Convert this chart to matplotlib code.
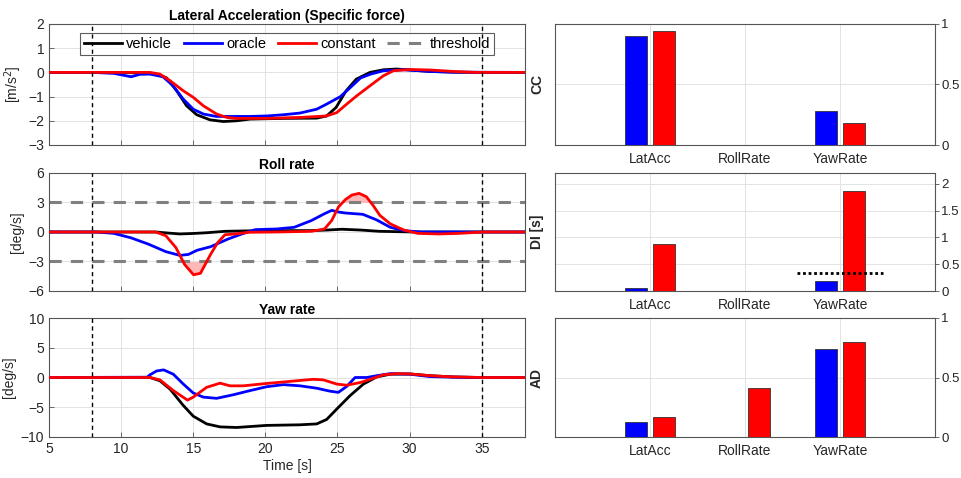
import matplotlib
matplotlib.use("Agg")
import matplotlib.pyplot as plt
import numpy as np

plt.rcParams["font.family"] = ["Liberation Sans", "DejaVu Sans"]
plt.rcParams["font.size"] = 10

BLUE = (0, 0, 1)
RED = (1, 0, 0)
GRAY = (0.5, 0.5, 0.5)
AXCOL = "#555555"
TXTCOL = "#262626"

# ---- lateral acceleration [m/s^2] ----
lat_veh_t = [5, 8, 10, 11, 12.0, 12.6, 13.16, 13.85, 14.54, 15.24, 16.16, 17.09, 18.0, 18.94,
             21.25, 23.56, 24.25, 24.9, 25.6, 26.3, 27.25, 28.2, 29.1, 30.0, 31.4, 33, 35, 38]
lat_veh_v = [0, 0, 0, -0.02, -0.05, -0.1, -0.23, -0.76, -1.38, -1.75, -1.96, -2.03, -2.0, -1.93,
             -1.9, -1.89, -1.8, -1.45, -0.76, -0.28, 0.0, 0.11, 0.14, 0.1, 0.04, 0.01, 0, 0]
lat_ora_t = [5, 8, 9.5, 10.7, 11.3, 12.0, 12.9, 13.6, 14.3, 15.0, 15.7, 16.6, 18.9, 20.1, 21.25,
             22.4, 23.56, 24.25, 25.2, 25.9, 26.6, 27.3, 28.2, 29.6, 31.4, 33, 38]
lat_ora_v = [0, 0, -0.04, -0.18, -0.08, -0.07, -0.18, -0.55, -1.1, -1.52, -1.72, -1.82, -1.82, -1.8,
             -1.75, -1.68, -1.52, -1.31, -1.0, -0.62, -0.23, -0.07, 0.07, 0.11, 0.04, 0.01, 0]
lat_con_t = [5, 12.0, 12.69, 13.39, 14.31, 15.0, 15.7, 16.62, 17.32, 18.0, 20.1, 22.4, 24.25,
             24.95, 25.64, 26.33, 27.26, 28.18, 28.88, 30.03, 31.42, 33, 34.5, 38]
lat_con_v = [0, 0, -0.07, -0.34, -0.76, -1.03, -1.38, -1.72, -1.86, -1.9, -1.9, -1.86, -1.8,
             -1.66, -1.31, -0.97, -0.55, -0.14, 0.07, 0.12, 0.1, 0.04, 0, 0]

# ---- roll rate [deg/s] ----
roll_veh_t = [5, 12.4, 13.2, 14.07, 15.0, 15.98, 17.2, 19.6, 23.2, 24.3, 25.3, 26.6, 27.9, 30.3, 38]
roll_veh_v = [0, 0, -0.1, -0.2, -0.15, -0.07, 0.07, 0.14, 0.14, 0.2, 0.28, 0.2, 0.07, 0, 0]
roll_ora_t = [5, 8.3, 9.5, 10.7, 11.9, 13.1, 14.07, 14.67, 15.26, 16.2, 17.4, 18.37, 19.3, 20.8,
              22.0, 23.2, 24.1, 24.6, 25.07, 25.55, 26.75, 27.7, 28.66, 29.6, 30.8, 38]
roll_ora_v = [0, 0, -0.14, -0.6, -1.24, -2.0, -2.38, -2.28, -1.86, -1.5, -0.72, -0.2, 0.24, 0.31,
              0.48, 1.17, 1.86, 2.2, 2.03, 1.93, 1.8, 1.24, 0.48, 0.14, 0, 0]
roll_con_t = [5, 12.4, 13.1, 13.8, 14.4, 15.02, 15.5, 16.2, 16.7, 17.2, 17.9, 18.85, 20.8, 23.2,
              24.1, 24.6, 25.07, 25.55, 26.0, 26.5, 27.0, 27.46, 27.94, 28.66, 29.6, 30.57, 32.0,
              33.4, 35.1, 38]
roll_con_v = [0, 0, -0.38, -1.59, -3.3, -4.35, -4.2, -2.28, -1.07, -0.28, -0.2, -0.03, 0, 0.07,
              0.31, 1.17, 2.55, 3.3, 3.76, 3.93, 3.59, 2.72, 1.69, 0.83, 0.2, -0.14, -0.2,
              -0.14, 0, 0]
roll_threshold = 3.0

# ---- yaw rate [deg/s] ----
yaw_veh_t = [5, 12.0, 12.69, 13.39, 14.31, 15.0, 15.93, 16.86, 18.01, 20.09, 22.4, 23.56, 24.25,
             24.95, 25.87, 26.8, 27.72, 28.65, 30.03, 31.42, 33, 35, 38]
yaw_veh_v = [0, 0, -0.55, -1.95, -4.7, -6.5, -7.8, -8.3, -8.4, -8.05, -7.95, -7.8, -7.05,
             -5.3, -3.05, -1.1, 0.1, 0.55, 0.6, 0.3, 0.1, 0, 0]
yaw_ora_t = [5, 11.8, 12.0, 12.46, 12.95, 13.62, 14.31, 15.0, 15.7, 16.62, 17.78, 18.94, 20.09,
             21.25, 22.4, 23.56, 24.48, 25.06, 25.64, 26.22, 27.03, 27.72, 28.65, 30.03, 31.42,
             33, 35, 38]
yaw_ora_v = [0, 0.05, 0.45, 1.1, 1.28, 0.55, -1.1, -2.6, -3.3, -3.5, -2.9, -2.2, -1.55,
             -1.2, -1.4, -1.8, -2.3, -2.5, -1.5, 0, 0, 0.3, 0.65, 0.55, 0.15, 0.05, 0, 0]
yaw_con_t = [5, 12.0, 12.69, 13.62, 14.6, 15.0, 15.93, 16.86, 17.55, 18.47, 20.09, 21.71, 23.33,
             24.02, 24.95, 25.64, 26.57, 27.26, 28.18, 29.11, 30.03, 31.42, 33, 35, 38]
yaw_con_v = [0, 0, -0.4, -2.2, -3.8, -3.3, -1.65, -0.95, -1.4, -1.4, -1.0, -0.65, -0.3,
             -0.4, -1.1, -1.3, -0.85, -0.3, 0.45, 0.65, 0.6, 0.3, 0.1, 0, 0]

window_start = 8
window_end = 35

# ---- metrics (oracle / constant) ----
metrics = ["LatAcc", "RollRate", "YawRate"]
cc_oracle = [0.90, np.nan, 0.28]
cc_constant = [0.945, np.nan, 0.18]
di_oracle = [0.05, np.nan, 0.18]
di_constant = [0.88, np.nan, 1.87]
di_threshold = 0.33
ad_oracle = [0.125, np.nan, 0.74]
ad_constant = [0.165, 0.41, 0.80]

fig = plt.figure(figsize=(9.61, 4.78), dpi=100)

W, H = 961, 478


def pos(x0, y0, x1, y1):
    return [x0 / W, 1 - y1 / H, (x1 - x0) / W, (y1 - y0) / H]


rows = [(24, 145), (173, 291), (318, 437)]
left_axes = [fig.add_axes(pos(49, r[0], 525, r[1])) for r in rows]
right_axes = [fig.add_axes(pos(555, r[0], 935, r[1])) for r in rows]


def style(ax):
    for s in ax.spines.values():
        s.set_color(AXCOL)
        s.set_linewidth(0.8)
    ax.tick_params(direction="in", length=3.5, width=0.6, colors=AXCOL,
                   labelcolor=TXTCOL, labelsize=10)
    ax.grid(True, color="#e3e3e3", linewidth=0.7)
    ax.set_axisbelow(True)


panels = [
    ("Lateral Acceleration (Specific force)", r"[m/s$^2$]", (-3, 2), [-3, -2, -1, 0, 1, 2],
     (lat_veh_t, lat_veh_v), (lat_ora_t, lat_ora_v), (lat_con_t, lat_con_v)),
    ("Roll rate", "[deg/s]", (-6, 6), [-6, -3, 0, 3, 6],
     (roll_veh_t, roll_veh_v), (roll_ora_t, roll_ora_v), (roll_con_t, roll_con_v)),
    ("Yaw rate", "[deg/s]", (-10, 10), [-10, -5, 0, 5, 10],
     (yaw_veh_t, yaw_veh_v), (yaw_ora_t, yaw_ora_v), (yaw_con_t, yaw_con_v)),
]

lw = 2.0
for i, (ax, p) in enumerate(zip(left_axes, panels)):
    title, ylab, ylim, yticks, veh, ora, con = p
    style(ax)
    if i == 1:
        ct = np.array(con[0])
        cv = np.array(con[1])
        ax.fill_between(ct, cv, roll_threshold, where=cv > roll_threshold, interpolate=True,
                        color=(1, 0.72, 0.72), linewidth=0, zorder=1)
        ax.fill_between(ct, cv, -roll_threshold, where=cv < -roll_threshold, interpolate=True,
                        color=(1, 0.72, 0.72), linewidth=0, zorder=1)
        ax.axhline(roll_threshold, color=GRAY, linestyle=(0, (4, 3)), linewidth=2.2, zorder=2)
        ax.axhline(-roll_threshold, color=GRAY, linestyle=(0, (4, 3)), linewidth=2.2, zorder=2)
    h1, = ax.plot(veh[0], veh[1], color="black", linewidth=lw, label="vehicle", zorder=3)
    h2, = ax.plot(ora[0], ora[1], color=BLUE, linewidth=lw, label="oracle", zorder=4)
    h3, = ax.plot(con[0], con[1], color=RED, linewidth=lw, label="constant", zorder=5)
    for xv in (window_start, window_end):
        ax.axvline(xv, color="black", linestyle=(0, (3, 2.5)), linewidth=1.0, zorder=6)
    ax.set_xlim(5, 38)
    ax.set_ylim(*ylim)
    ax.set_yticks(yticks)
    ax.set_xticks([5, 10, 15, 20, 25, 30, 35])
    ax.set_title(title, fontsize=10, fontweight="bold", color="black", pad=3)
    ax.set_ylabel(ylab, color=TXTCOL, labelpad=3)
    if i < 2:
        ax.tick_params(labelbottom=False)
    else:
        ax.set_xlabel("Time [s]", color=TXTCOL, labelpad=2)
    if i == 0:
        thr, = ax.plot([], [], color=GRAY, linestyle=(0, (4, 3)), linewidth=2.2, label="threshold")
        leg = ax.legend(handles=[h1, h2, h3, thr], loc="upper center", ncol=4, fontsize=10.5,
                        frameon=True, fancybox=False, handlelength=2.6, handletextpad=0.3,
                        columnspacing=0.8, borderpad=0.3, bbox_to_anchor=(0.5, 0.99))
        leg.get_frame().set_edgecolor("#333333")
        leg.get_frame().set_linewidth(0.8)

bar_sets = [
    ("CC", cc_oracle, cc_constant, (0, 1), [0, 0.5, 1]),
    ("DI [s]", di_oracle, di_constant, (0, 2.2), [0, 0.5, 1, 1.5, 2]),
    ("AD", ad_oracle, ad_constant, (0, 1), [0, 0.5, 1]),
]
xpos = np.arange(1, len(metrics) + 1)
bw = 0.23
off = 0.145
for i, (ax, b) in enumerate(zip(right_axes, bar_sets)):
    lab, ora, con, ylim, yticks = b
    style(ax)
    ax.bar(xpos - off, ora, width=bw, color=BLUE, edgecolor="#333333", linewidth=0.6, zorder=3)
    ax.bar(xpos + off, con, width=bw, color=RED, edgecolor="#333333", linewidth=0.6, zorder=3)
    if i == 1:
        ax.hlines(di_threshold, xpos[2] - 0.45, xpos[2] + 0.45, color="black",
                  linestyle=(0, (1, 1)), linewidth=2.0, zorder=4)
    ax.set_xlim(0, 4)
    ax.set_ylim(*ylim)
    ax.set_yticks(yticks)
    ax.set_yticklabels([f"{t:g}" for t in yticks])
    ax.set_xticks(xpos)
    ax.set_xticklabels(metrics)
    ax.yaxis.tick_right()
    ax.yaxis.set_label_position("left")
    ax.tick_params(axis="y", direction="out", length=3, pad=1.5, labelsize=9.5)
    ax.tick_params(axis="x", length=0, pad=5)
    ax.set_ylabel(lab, fontweight="bold", color=TXTCOL, labelpad=8)

fig.savefig("out.png", dpi=100)
